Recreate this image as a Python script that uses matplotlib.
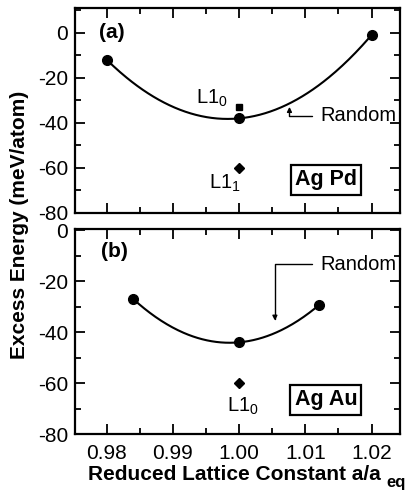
import numpy as np
import matplotlib
matplotlib.use("Agg")
import matplotlib.pyplot as plt
from matplotlib.ticker import MultipleLocator

plt.rcParams['font.family'] = ['Liberation Sans', 'DejaVu Sans']
plt.rcParams['axes.unicode_minus'] = False
plt.rcParams['mathtext.fontset'] = 'custom'
plt.rcParams['mathtext.rm'] = 'Liberation Sans'
plt.rcParams['mathtext.bf'] = 'Liberation Sans:bold'

# Panel (a): Ag Pd
a_x_random = [0.98, 1.00, 1.02]
a_y_random = [-12, -38, -1]
a_L10 = (1.00, -33)
a_L11 = (1.00, -60)

# Panel (b): Ag Au
b_x_random = [0.984, 1.00, 1.012]
b_y_random = [-27, -44, -29.5]
b_L10 = (1.00, -60)

xticks = [0.98, 0.99, 1.00, 1.01, 1.02]
xticklabels = ["0.98", "0.99", "1.00", "1.01", "1.02"]
yticks = [0, -20, -40, -60, -80]

fig = plt.figure(figsize=(4.07, 4.91), dpi=100)
W, H = 407, 491
ax1 = fig.add_axes([75 / W, 1 - 213 / H, 325 / W, 205 / H])
ax2 = fig.add_axes([75 / W, 1 - 434 / H, 325 / W, 205 / H])

def style(ax, ytop):
    ax.set_xlim(0.9752, 1.0243)
    ax.set_ylim(-80, ytop)
    ax.set_xticks(xticks)
    ax.xaxis.set_minor_locator(MultipleLocator(0.005))
    ax.set_yticks(yticks)
    ax.yaxis.set_minor_locator(MultipleLocator(10))
    ax.tick_params(which='both', direction='in', top=True, right=True, width=1.3, labelsize=15)
    ax.tick_params(which='major', length=7)
    ax.tick_params(which='minor', length=4)
    ax.tick_params(axis='y', pad=5)
    ax.tick_params(axis='x', pad=7)
    for s in ax.spines.values():
        s.set_linewidth(1.6)

style(ax1, 11)
style(ax2, 0.5)
ax1.set_xticklabels([])
ax2.set_xticklabels(xticklabels)

def fitcurve(ax, xs, ys):
    c = np.polyfit(xs, ys, 2)
    xx = np.linspace(min(xs), max(xs), 200)
    ax.plot(xx, np.polyval(c, xx), color='black', lw=1.5)
    ax.plot(xs, ys, 'o', color='black', ms=7)

fitcurve(ax1, a_x_random, a_y_random)
ax1.plot(*a_L10, 's', color='black', ms=5)
ax1.plot(*a_L11, 'D', color='black', ms=5)
ax1.text(0.9983, -29, "L1$_0$", fontsize=14.5, ha='right', va='center')
ax1.text(1.0002, -67, "L1$_1$", fontsize=14.5, ha='right', va='center')
ax1.text(0.9789, 0, "(a)", fontsize=15, fontweight='bold', ha='left', va='center')
ax1.text(1.0131, -65.3, "Ag Pd", fontsize=15.5, fontweight='bold', ha='center', va='center',
         bbox=dict(boxstyle='square,pad=0.2', fc='white', ec='black', lw=1.6))
ax1.text(1.0122, -36.9, "Random", fontsize=14.5, ha='left', va='center')
ax1.annotate("", xy=(1.0076, -32.9), xytext=(1.0110, -36.9),
             arrowprops=dict(arrowstyle='-|>', connectionstyle='angle,angleA=0,angleB=90,rad=0',
                             color='black', lw=1, mutation_scale=7, shrinkA=0, shrinkB=0))

fitcurve(ax2, b_x_random, b_y_random)
ax2.plot(*b_L10, 'D', color='black', ms=5)
ax2.text(1.0006, -69, "L1$_0$", fontsize=14.5, ha='center', va='center')
ax2.text(0.9792, -8.2, "(b)", fontsize=15, fontweight='bold', ha='left', va='center')
ax2.text(1.0131, -66.6, "Ag Au", fontsize=15.5, fontweight='bold', ha='center', va='center',
         bbox=dict(boxstyle='square,pad=0.2', fc='white', ec='black', lw=1.6))
ax2.text(1.0122, -13.3, "Random", fontsize=14.5, ha='left', va='center')
ax2.annotate("", xy=(1.0054, -35.5), xytext=(1.0110, -13.3),
             arrowprops=dict(arrowstyle='-|>', connectionstyle='angle,angleA=0,angleB=90,rad=0',
                             color='black', lw=1, mutation_scale=7, shrinkA=0, shrinkB=0))

fig.text(88 / W, 1 - 480 / H, "Reduced Lattice Constant a/a", fontsize=15, fontweight='bold',
         ha='left', va='baseline')
fig.text(386 / W, 1 - 487 / H, "eq", fontsize=12, fontweight='bold', ha='left', va='baseline')
fig.text(20 / W, 1 - 225 / H, "Excess Energy (meV/atom)", rotation=90, fontsize=15,
         fontweight='bold', ha='center', va='center')

fig.savefig("out.png", dpi=100)
